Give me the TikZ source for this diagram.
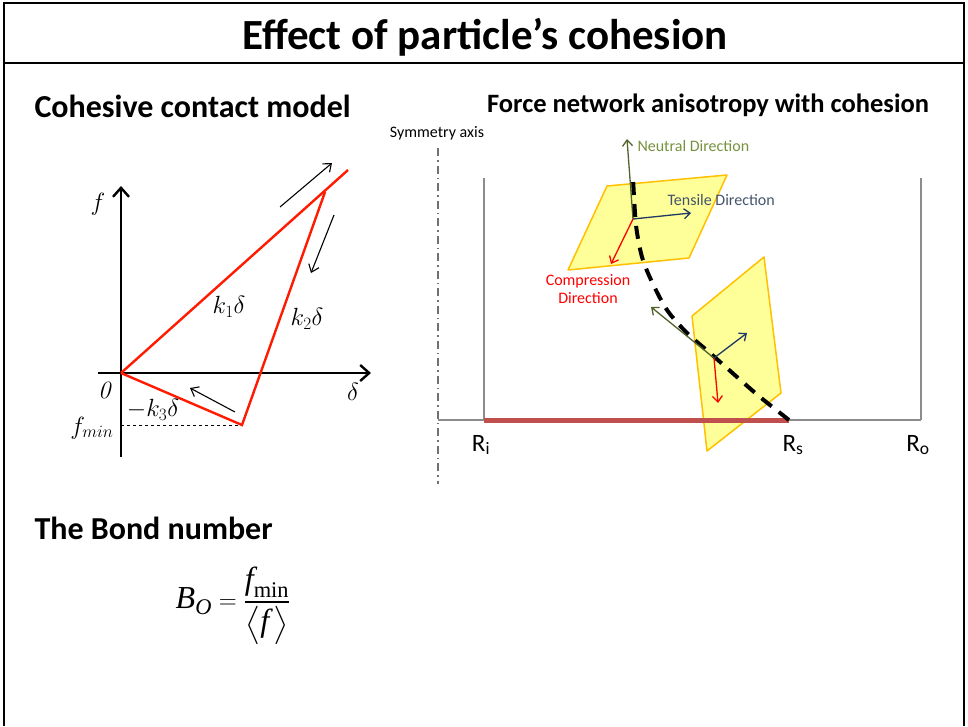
\documentclass[tikz,border=0pt]{standalone}
\usepackage{amsmath, amssymb}
\usepackage[no-math]{fontspec}
\setmainfont{Carlito}
\newfontfamily\timesfont{Liberation Serif}
\usepackage{xcolor}
\usetikzlibrary{arrows.meta}

\definecolor{curvered}{HTML}{FF1A00}
\definecolor{barred}{HTML}{C0504D}
\definecolor{boxgray}{HTML}{8C8C8C}
\definecolor{planefill}{HTML}{FFFF99}
\definecolor{planeedge}{HTML}{FFC000}
\definecolor{neutralgreen}{HTML}{4F6228}
\definecolor{neutraltext}{HTML}{76923C}
\definecolor{tensileblue}{HTML}{1F3864}
\definecolor{tensiletext}{HTML}{44546A}

\newcommand{\tvar}[1]{\text{\timesfont\itshape #1}}
\newcommand{\tup}[1]{\text{\timesfont #1}}

\tikzset{
  axisline/.style={line width=2.4pt,-{Straight Barb[length=9pt,width=16pt,line width=2.4pt]}},
  loadline/.style={curvered,line width=2.4pt,line join=miter},
  pathArrow/.style={line width=1.1pt,-{Straight Barb[length=7pt,width=11pt]}},
  plane/.style={fill=planefill,draw=planeedge,line width=1.5pt,line join=round},
  dirArrow/.style={line width=1.3pt,-{Straight Barb[length=6pt,width=10pt]}},
  smalltxt/.style={font=\fontsize{16}{18}\selectfont},
  mathtxt/.style={font=\fontsize{24}{28}\selectfont}
}

\begin{document}
\begin{tikzpicture}[x=1pt,y=-1pt]
	\useasboundingbox (0,0) rectangle (968,726);

	% Cadre et titre
	\draw[line width=2pt] (4,726) -- (4,3) -- (964,3) -- (964,726);
	\draw[line width=2pt] (4,63) -- (964,63);
	\node[font=\fontsize{43}{49}\selectfont\bfseries] (title) at (485,37) {Effect of particle’s cohesion};

	% Titres des parties
	\node[font=\fontsize{32}{36}\selectfont\bfseries,anchor=west] (lefthead) at (31,106) {Cohesive contact model};
	\node[font=\fontsize{26.5}{30}\selectfont\bfseries] (righthead) at (708,105) {Force network anisotropy with cohesion};
	\node[font=\fontsize{32}{36}\selectfont\bfseries,anchor=west] (bondhead) at (31,528) {The Bond number};

	% Modele de contact cohesif
	\coordinate (O) at (121,373);
	\coordinate (ybot) at (121,457);
	\coordinate (ytop) at (121,186);
	\coordinate (xleft) at (98,373);
	\coordinate (xright) at (371,373);
	\coordinate (kend) at (348,170);
	\coordinate (peak) at (325,192);
	\coordinate (fmin) at (242,425);
	\coordinate (fminaxis) at (121,425);

	\draw[axisline] (ybot) -- (ytop);
	\draw[axisline] (xleft) -- (xright);
	\draw[dashed,line width=0.6pt] (fminaxis) -- (fmin);
	\draw[loadline] (O) -- (kend);
	\draw[loadline] (peak) -- (fmin) -- (O);

	\node[mathtxt] (flab) at (98,204) {$f$};
	\node[mathtxt] (dlab) at (353,392) {$\delta$};
	\node[mathtxt] (olab) at (106,390) {$\mathit{0}$};
	\node[mathtxt] (k1lab) at (229,307) {$k_1\delta$};
	\node[mathtxt] (k2lab) at (307,319) {$k_2\delta$};
	\node[mathtxt] (k3lab) at (153,410) {$-k_3\delta$};
	\node[mathtxt,anchor=east] (fminlab) at (117,428) {$f_{min}$};

	\coordinate (a1s) at (280,207);
	\coordinate (a1e) at (332,163);
	\coordinate (a2s) at (334,215);
	\coordinate (a2e) at (311,273);
	\coordinate (a3s) at (235,412);
	\coordinate (a3e) at (190,388);
	\draw[pathArrow] (a1s) -- (a1e);
	\draw[pathArrow] (a2s) -- (a2e);
	\draw[pathArrow] (a3s) -- (a3e);

	% Anisotropie du reseau de forces
	\node[smalltxt] (symlab) at (437,133) {Symmetry axis};
	\coordinate (symtop) at (438,148);
	\coordinate (symbot) at (438,484);
	\draw[boxgray!80!black,line width=1.2pt,dash pattern=on 8pt off 4pt on 1.5pt off 4pt] (symtop) -- (symbot);

	\coordinate (Ri) at (484,420);
	\coordinate (Rs) at (789,420);
	\coordinate (Ro) at (921,420);
	\draw[boxgray,line width=2pt] (484,178) -- (Ri);
	\draw[boxgray,line width=2pt] (921,178) -- (Ro);
	\draw[boxgray,line width=2pt] (symtop |- Ri) -- (Ro);

	% plans de contact
	\draw[plane] (607,186) -- (727,175) -- (689,258) -- (568,270) -- cycle;
	\draw[plane] (764,257) -- (781,393) -- (707,451) -- (692,316) -- cycle;

	\draw[barred,line width=5pt] (Ri) -- (Rs);

	\node[font=\fontsize{25}{28}\selectfont] (Rilab) at (481,445) {R\textsubscript{i}};
	\node[font=\fontsize{25}{28}\selectfont] (Rslab) at (793,445) {R\textsubscript{s}};
	\node[font=\fontsize{25}{28}\selectfont] (Rolab) at (918,445) {R\textsubscript{o}};

	% directions, plan du haut
	\coordinate (uc) at (633,219);
	\coordinate (un) at (627,139);
	\coordinate (ut) at (691,213);
	\coordinate (ucp) at (611,264);
	\draw[dirArrow,neutralgreen] (uc) -- (un);
	\draw[dirArrow,tensileblue] (uc) -- (ut);
	\draw[dirArrow,red] (uc) -- (ucp);

	\node[smalltxt,neutraltext,anchor=west] (neutlab) at (634,146) {Neutral Direction};
	\node[smalltxt,tensiletext,anchor=west] (tenslab) at (664,200) {Tensile Direction};
	\node[smalltxt,red,align=center] (complab) at (588,289) {Compression\\Direction};

	% ligne de symetrie des forces
	\draw[line width=4pt,dash pattern=on 13pt off 9pt] plot[smooth] coordinates {(789,420) (760,397) (737,377) (710,353) (687,333) (667,310) (652,282) (642,257) (636,225) (633,178)};

	% directions, plan du bas
	\coordinate (lc) at (714,358);
	\coordinate (ln) at (651,307);
	\coordinate (lt) at (747,333);
	\coordinate (lcp) at (718,403);
	\draw[dirArrow,neutralgreen] (lc) -- (ln);
	\draw[dirArrow,tensileblue] (lc) -- (lt);
	\draw[dirArrow,red] (lc) -- (lcp);

	% Nombre de Bond
	\node[font=\fontsize{32}{36}\selectfont] (bond) at (233,606) {$\displaystyle \tvar{B}_{\tvar{O}}=\frac{\tvar{f}_{\tup{min}}}{\bigl\langle \tvar{f}\,\bigr\rangle}$};
\end{tikzpicture}
\end{document}
